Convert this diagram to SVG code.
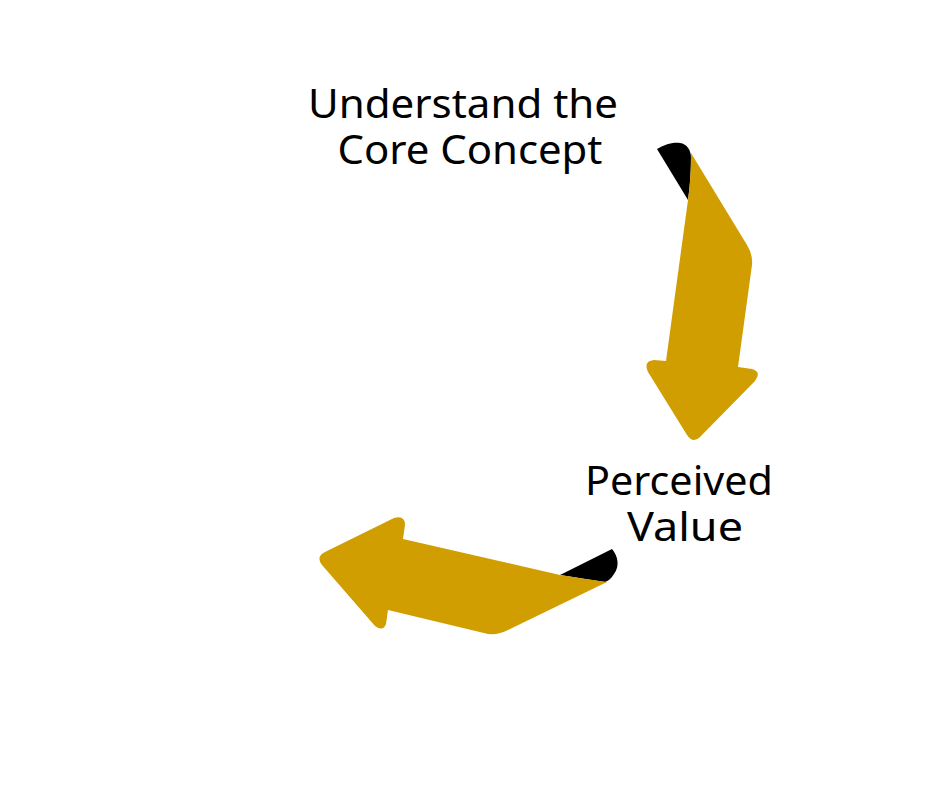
<svg xmlns="http://www.w3.org/2000/svg" width="940" height="788" viewBox="0 0 940 788">
<style>
.lbl{font-family:"Noto Sans","Liberation Sans",Arial,sans-serif;font-size:40px;fill:#000;text-anchor:middle}
.gold{fill:#D19E02}
.flap{fill:#000}
</style>
<rect width="940" height="788" fill="#fff"/>
<g id="connectors">
<g id="arrow1">
<path class="flap" d="M657,149 C664,145 672,142 680,143 C687,144 691,150 691,158 C691,172 690,186 688,200 Z"/>
<path class="gold" d="M691,153 L747,245 Q753,255 752,265 L738,367 L752,369 Q762,372 755,381 L700,437 Q693,444 687,435 L648,372 Q643,361 654,360 L666,361 L688,200 C690,186 691,170 691,153 Z"/>
</g>
<g id="arrow2">
<path class="flap" d="M560,575 L612,549 C618,556 620,566 614,574 C611,579 608,581 605,582 Z"/>
<path class="gold" d="M403,539 L560,575 C578,578 593,580 607,582 L508,630 Q499,635 488,634 L388,610 L386,624 Q383,632 375,626 L322,565 Q315,556 327,551 L394,518 Q405,515 405,525 Z"/>
</g>
</g>
<g id="node-core">
<text class="lbl" x="463" y="118" textLength="310" lengthAdjust="spacingAndGlyphs">Understand the</text>
<text class="lbl" x="470" y="164" textLength="265" lengthAdjust="spacingAndGlyphs">Core Concept</text>
</g>
<g id="node-value">
<text class="lbl" x="679" y="495" textLength="188" lengthAdjust="spacingAndGlyphs">Perceived</text>
<text class="lbl" x="685" y="541" textLength="116" lengthAdjust="spacingAndGlyphs">Value</text>
</g>
</svg>
